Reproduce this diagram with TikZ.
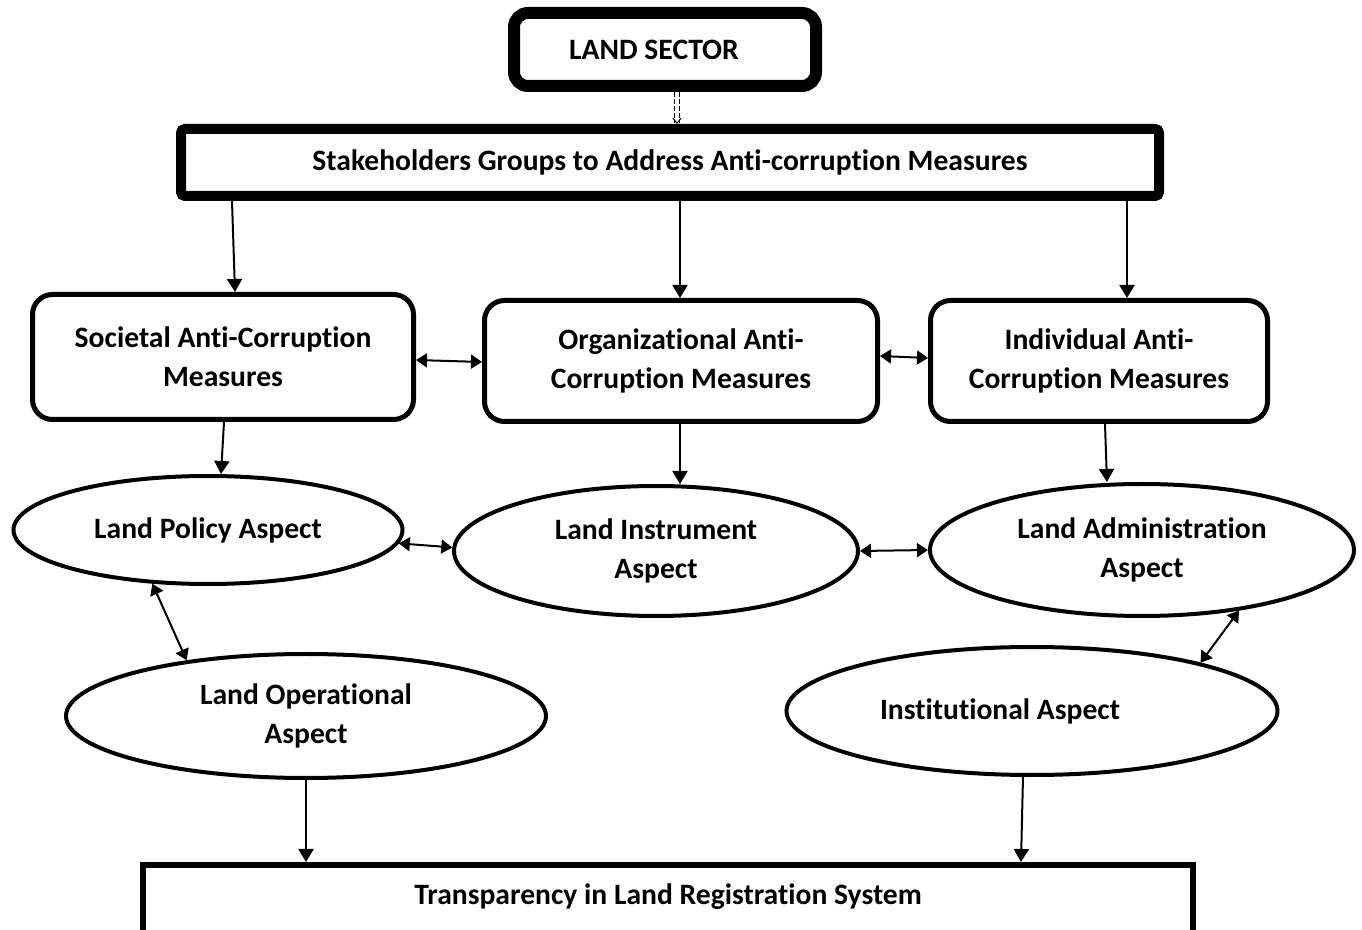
\documentclass[tikz,border=0pt]{standalone}
\usepackage{fontspec}
\setmainfont{Carlito}[Ligatures=NoCommon]
\usetikzlibrary{shapes.geometric,arrows.meta}
\begin{document}
\begin{tikzpicture}[x=0.5pt, y=-0.5pt, font=\bfseries\fontsize{14.8}{19.5}\selectfont,
  box/.style={draw, line width=2.5pt, rounded corners=10pt, align=center, minimum height=60.5pt},
  asp/.style={draw, ellipse, line width=2pt, align=center, inner sep=0pt},
  arr/.style={line width=1pt, -{Triangle[length=6.5pt,width=7.5pt]}},
  darr/.style={line width=1pt, {Triangle[length=5.5pt,width=7pt]}-{Triangle[length=5.5pt,width=7pt]}}]
  \useasboundingbox (0,0) rectangle (1362,930);
  \node[draw, line width=6pt, rounded corners=7pt, minimum width=151pt, minimum height=36.5pt] (sector) at (665,49.5) {LAND SECTOR\hspace*{11pt}};
  \node[draw, line width=5pt, rounded corners=2pt, minimum width=489pt, minimum height=33.5pt] (stake) at (670,162.5) {Stakeholders Groups to Address Anti-corruption Measures};
  \node[box, minimum width=190.5pt, minimum height=62.5pt] (soc) at (223,357) {Societal Anti-Corruption\\Measures};
  \node[box, minimum width=196.5pt] (org) at (681,361) {Organizational Anti-\\Corruption Measures};
  \node[box, minimum width=168.5pt] (ind) at (1099,361) {Individual Anti-\\Corruption Measures};
  \node[asp, minimum width=194.5pt, minimum height=54pt] (policy) at (208,530) {Land Policy Aspect};
  \node[asp, minimum width=202pt, minimum height=65pt] (instr) at (656,551) {Land Instrument\\Aspect};
  \node[asp, minimum width=212pt, minimum height=66pt] (admin) at (1142,550) {Land Administration\\Aspect};
  \node[asp, minimum width=240pt, minimum height=62pt] (oper) at (306,716) {Land Operational\\Aspect};
  \node[asp, minimum width=245.5pt, minimum height=64pt] (inst) at (1032,711) {Institutional Aspect\hspace*{32pt}};
  \node[draw, line width=3pt, anchor=north, minimum width=525pt, inner ysep=0pt, text height=20pt, text depth=30pt] (trans) at (668,862) {Transparency in Land Registration System};
  \draw[line width=0.5pt, double, double distance=2pt, dash pattern=on 2.5pt off 1pt, -{Straight Barb[length=2.5pt,width=4pt]}] (sector.south -| 677,0) -- (stake.north -| 677,0);
  \draw[arr] (stake.south -| 232,0) -- (soc.north -| 235,0);
  \draw[arr] (stake.south -| 680,0) -- (org.north -| 680,0);
  \draw[arr] (stake.south -| 1127,0) -- (ind.north -| 1127,0);
  \draw[darr] (soc.east |- 0,360) -- (org.west |- 0,362);
  \draw[darr] (org.east |- 0,356) -- (ind.west |- 0,358);
  \draw[arr] (soc.south -| 224,0) -- (policy.north -| 221,0);
  \draw[arr] (org.south -| 680,0) -- (instr.north -| 680,0);
  \draw[arr] (ind.south -| 1105,0) -- (admin.north -| 1107,0);
  \draw[darr] (policy.-4) -- (instr.179);
  \draw[darr] (instr.east) -- (admin.west);
  \draw[darr] (policy.224) -- (oper.155);
  \draw[darr] (admin.-32) -- (inst.16);
  \draw[arr] (oper.south) -- (trans.north -| oper.south);
  \draw[arr] (inst.south -| 1023,0) -- (trans.north -| 1021,0);
\end{tikzpicture}
\end{document}
